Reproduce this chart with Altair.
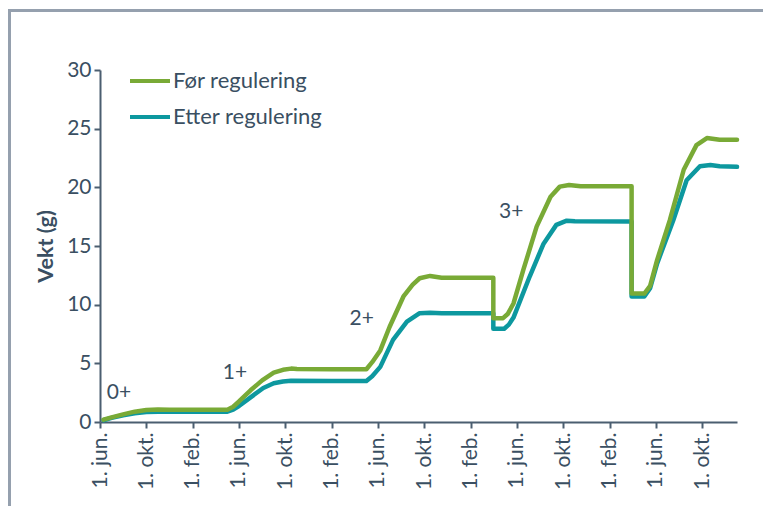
import altair as alt
import pandas as pd

# months since 1 June of year 0+
for_months = [0.3, 1, 2, 3, 4, 5, 6, 8, 10, 11, 11.5, 12, 13, 14, 15, 15.8, 16.5, 17, 20, 23,
              23.5, 24.2, 25, 26.2, 27, 27.6, 28.5, 29.5, 33.96, 33.96, 34.8, 35.2, 35.7, 36.55,
              37.7, 38.9, 39.7, 40.5, 41.5, 45.9, 45.9, 47.0, 47.5, 48.1, 49.2, 50.4, 51.5, 52.4,
              53.5, 55]
for_values = [0.2, 0.4, 0.65, 0.88, 1.02, 1.07, 1.05, 1.05, 1.05, 1.05, 1.3, 1.75, 2.7, 3.55, 4.2,
              4.45, 4.55, 4.52, 4.5, 4.5,
              5.1, 6.1, 8.1, 10.7, 11.7, 12.25, 12.45, 12.3, 12.3, 8.85, 8.85, 9.2, 10.1, 12.96,
              16.65, 19.2, 20.06, 20.2, 20.1, 20.1, 10.95, 10.95, 11.6, 13.8, 17.2, 21.5, 23.6, 24.2,
              24.05, 24.05]

etter_months = [0.3, 1, 2, 3, 4, 5, 8, 11.0, 11.5, 12, 13, 14.1, 15, 15.8, 16.5, 20, 23.0,
                23.5, 24.2, 25.3, 26.5, 27.6, 28.5, 29.5, 33.96, 33.96, 34.9, 35.3, 35.7, 37.1,
                38.3, 39.4, 40.3, 41, 45.9, 45.9, 47.0, 47.5, 48.1, 49.5, 50.65, 51.8, 52.7,
                53.5, 55]
etter_values = [0.15, 0.35, 0.58, 0.75, 0.85, 0.88, 0.88, 0.88, 1.05, 1.36, 2.1, 2.9, 3.3, 3.45,
                3.52, 3.5, 3.5, 3.9, 4.7, 7.0, 8.55, 9.27, 9.32, 9.27, 9.27, 7.95, 7.95, 8.3, 8.9,
                12.4, 15.2, 16.8, 17.16, 17.1, 17.08, 10.7, 10.7, 11.4, 13.5, 17.2, 20.6, 21.8,
                21.9, 21.8, 21.75]

series_names = ["Før regulering", "Etter regulering"]
series_colors = ["#79aa36", "#0d989f"]

tick_months = list(range(0, 53, 4))
tick_labels = ["1. jun.", "1. okt.", "1. feb."]

age_labels = ["0+", "1+", "2+", "3+"]
age_months = [1.64, 11.66, 22.6, 35.5]
age_values = [2.45, 4.15, 8.8, 17.9]

TEXT = "#3a4f62"
AXIS = "#4b5e70"
FRAME = "#95a0ae"
FONT = "Lato"

rows = []
for i, (m, v) in enumerate(zip(for_months, for_values)):
    rows.append({"serie": series_names[0], "mnd": m, "vekt": v, "ord": i})
for i, (m, v) in enumerate(zip(etter_months, etter_values)):
    rows.append({"serie": series_names[1], "mnd": m, "vekt": v, "ord": i})
df = pd.DataFrame(rows)

ann = pd.DataFrame({"txt": age_labels, "mnd": age_months, "vekt": age_values})

label_expr = "[" + ",".join('"%s"' % t for t in tick_labels) + "][round(datum.value/4)%3]"

x_enc = alt.X("mnd:Q", scale=alt.Scale(domain=[0, 55], nice=False, zero=False),
              axis=alt.Axis(values=tick_months, labelExpr=label_expr, labelAngle=270,
                            title=None, grid=False, tickSize=6, labelPadding=4,
                            domainWidth=2, tickWidth=2, labelFontSize=21))
y_enc = alt.Y("vekt:Q", scale=alt.Scale(domain=[0, 30], nice=False),
              axis=alt.Axis(values=[0, 5, 10, 15, 20, 25, 30], title="Vekt (g)", grid=False,
                            tickSize=6, labelPadding=3, domainWidth=2, tickWidth=2,
                            labelFontSize=21, titleFontSize=21.5, titleFontWeight="bold",
                            titlePadding=9))
color_enc = alt.Color("serie:N",
                      scale=alt.Scale(domain=series_names, range=series_colors),
                      legend=alt.Legend(title=None, orient="none", legendX=28, legendY=-11,
                                        symbolType="stroke", symbolSize=1600,
                                        symbolStrokeWidth=4, labelFontSize=22,
                                        labelColor=TEXT, labelOffset=1, rowPadding=3,
                                        labelFont=FONT))

base = alt.Chart(df)
etter = base.transform_filter(alt.datum.serie == series_names[1]).mark_line(
    strokeWidth=4.5, strokeJoin="round", strokeCap="round").encode(
    x=x_enc, y=y_enc, color=color_enc, order="ord:Q")
foer = base.transform_filter(alt.datum.serie == series_names[0]).mark_line(
    strokeWidth=4.5, strokeJoin="round", strokeCap="round").encode(
    x=x_enc, y=y_enc, color=color_enc, order="ord:Q")

text = alt.Chart(ann).mark_text(fontSize=21, color=TEXT, font=FONT).encode(
    x="mnd:Q", y="vekt:Q", text="txt:N")

one = pd.DataFrame({"a": [0]})
frame = alt.Chart(one).mark_rect(fill="transparent", stroke=FRAME, strokeWidth=3).encode(
    x=alt.value(-90.5), x2=alt.value(760), y=alt.value(-59.5), y2=alt.value(520))

chart = alt.layer(frame, etter, foer, text).properties(
    width=637, height=352,
    background="white",
    autosize=alt.AutoSizeParams(type="none"),
    padding={"left": 92, "top": 62, "right": 26, "bottom": 84},
).configure_view(stroke=None, strokeWidth=0).configure_axis(
    labelColor=TEXT, titleColor=TEXT, domainColor=AXIS, tickColor=AXIS,
    labelFont=FONT, titleFont=FONT
).configure_text(font=FONT)

chart.save("out.html", embed_options={"renderer": "svg", "actions": False})
